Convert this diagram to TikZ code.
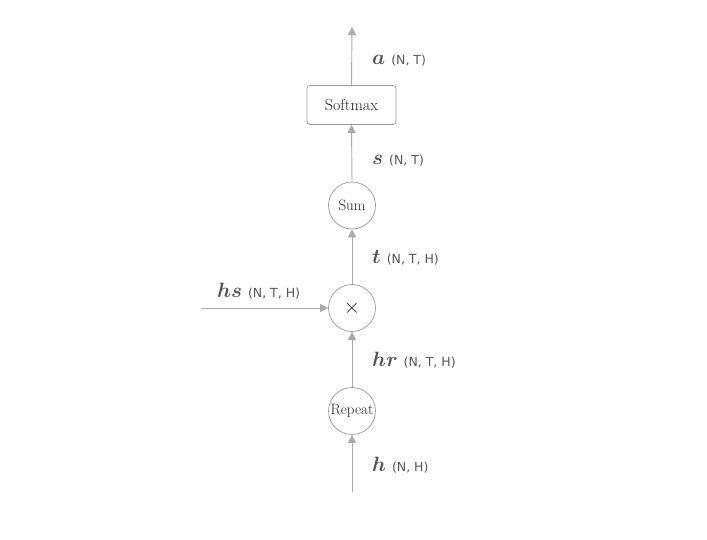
\documentclass[tikz,border=0pt]{standalone}
\usepackage{fontspec}
\usepackage{bm}
\newfontfamily\monofnt{DejaVu Sans}
\usetikzlibrary{arrows.meta}
\definecolor{linegray}{HTML}{AAAAAA}
\definecolor{bordergray}{HTML}{999999}
\definecolor{labelgray}{HTML}{555555}
\definecolor{nodetext}{HTML}{222222}
\tikzset{
  conn/.style={draw=linegray, line width=0.9pt, -{Triangle[length=8pt,width=8pt]}, color=linegray},
  opcircle/.style={circle, draw=bordergray, line width=0.7pt, minimum size=47pt, inner sep=0pt, text=nodetext, font=\fontsize{15}{15}\selectfont},
  opbox/.style={rectangle, rounded corners=3pt, draw=bordergray, line width=0.7pt, minimum width=89pt, minimum height=39pt, inner sep=0pt, text=nodetext, font=\fontsize{16}{16}\selectfont},
  lbl/.style={anchor=base west, inner sep=0pt, text=labelgray}
}
\newcommand{\lab}[2]{{\fontsize{22}{22}\selectfont$\bm{#1}$}\hspace{6pt}{\monofnt\fontsize{12.5}{12.5}\selectfont #2}}
\begin{document}
\begin{tikzpicture}[x=1pt,y=-1pt]
\useasboundingbox (0,0) rectangle (707,540);
\node[opbox] (soft) at (351.5,105) {Softmax};
\node[opcircle] (sum) at (352,205.5) {Sum};
\node[opcircle, font=\fontsize{20}{20}\selectfont] (mul) at (352,308) {$\times$};
\node[opcircle] (rep) at (352,411) {Repeat};
\coordinate (top) at (352,27);
\coordinate (bot) at (352,492);
\coordinate (left) at (201,308);
\draw[conn] (soft.north) -- (top);
\draw[conn] (sum.north) -- (soft.south);
\draw[conn] (mul.north) -- (sum.south);
\draw[conn] (rep.north) -- (mul.south);
\draw[conn] (bot) -- (rep.south);
\draw[conn] (left) -- (mul.west);
\node[lbl] (la) at (372,65) {\lab{a}{(N, T)}};
\node[lbl] (ls) at (372,165) {\lab{s}{(N, T)}};
\node[lbl] (lt) at (372,264) {\lab{t}{(N, T, H)}};
\node[lbl] (lhs) at (217,298) {\lab{hs}{(N, T, H)}};
\node[lbl] (lhr) at (372,366) {\lab{hr}{(N, T, H)}};
\node[lbl] (lh) at (372,471) {\lab{h}{(N, H)}};
\end{tikzpicture}
\end{document}
